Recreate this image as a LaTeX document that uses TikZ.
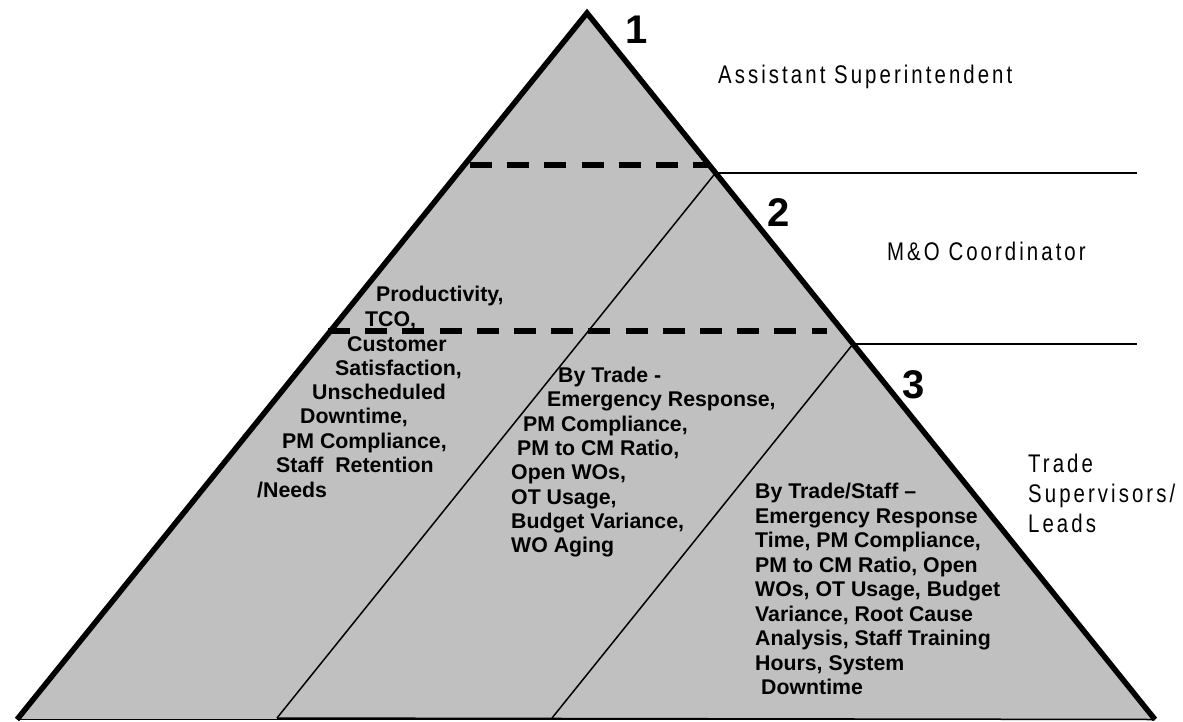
\documentclass[tikz,border=0pt]{standalone}
\usepackage{fontspec}
\setmainfont{Liberation Sans}
\newfontfamily\rolefont[FakeStretch=0.8,LetterSpace=12]{Liberation Sans}
\definecolor{pyrgray}{HTML}{C0C0C0}
\definecolor{baseline}{HTML}{808080}

\begin{document}
\begin{tikzpicture}[x=1pt,y=-1pt,
  metric/.style={font=\fontsize{21.3}{24.5}\selectfont\bfseries, inner sep=0pt, anchor=base west},
  role/.style={font=\fontsize{25.5}{30}\selectfont\rolefont, inner sep=0pt, anchor=base west},
  tier/.style={font=\fontsize{40}{40}\selectfont\bfseries, inner sep=0pt, anchor=base},
  rim/.style={line width=5.5pt, line join=miter},
  divider/.style={line width=1.5pt},
  cut/.style={line width=6pt, dash pattern=on 22pt off 15.2pt}]

\useasboundingbox (0,0) rectangle (1183,721);

% pyramid corners
\coordinate (apex) at (587,13);
\coordinate (bl) at (17,719.5);
\coordinate (br) at (1155,719.5);

% points where the level dividers meet the right face
\coordinate (c1) at (715.5,173);
\coordinate (c2) at (853,344);
\coordinate (f1) at (277,718);
\coordinate (f2) at (552,718);
\coordinate (e1) at (1137,173);
\coordinate (e2) at (1137,344);

% dashed level cuts
\coordinate (d1a) at (470,165);
\coordinate (d1b) at (709,165);
\coordinate (d2a) at (328,331);
\coordinate (d2b) at (827,331);

\fill[pyrgray] (apex) -- (br) -- (bl) -- cycle;
\draw[divider, baseline] (bl) -- (br);
\draw[divider] (f1) -- (br);

% slanted dividers and level rules
\draw[divider] (c1) -- (f1);
\draw[divider] (c2) -- (f2);
\draw[divider] (c1) -- (e1);
\draw[divider] (c2) -- (e2);

\draw[cut] (d1a) -- (d1b);
\draw[cut] (d2a) -- (d2b);

\draw[rim] (bl) -- (apex) -- (br);

% level numbers
\node[tier] (n1) at (637,43) {1};
\node[tier] (n2) at (779,226) {2};
\node[tier] (n3) at (914,398) {3};

% roles
\node[role] (r1) at (718,83) {Assistant Superintendent};
\node[role] (r2) at (887,260) {M\&O Coordinator};
\node[role] (r3a) at (1028,472) {Trade};
\node[role] (r3b) at (1028,502) {Supervisors/};
\node[role] (r3c) at (1028,532) {Leads};

% level 1 metrics
\foreach \x/\y/\t [count=\i] in {
  376/301.5/{Productivity,},
  365/326.5/{TCO,},
  347/351.5/{Customer},
  335/375.5/{Satisfaction,},
  312/399.5/{Unscheduled},
  300/423.5/{Downtime,},
  282/448.5/{PM Compliance,},
  276/472.5/{Staff\ \ Retention},
  257/497.5/{/Needs}}
  \node[metric] (a\i) at (\x,\y) {\t};

% level 2 metrics
\foreach \x/\y/\t [count=\i] in {
  558/382.5/{By Trade -},
  547/406.5/{Emergency Response,},
  523/431/{PM Compliance,},
  517/455.5/{PM to CM Ratio,},
  511/479.5/{Open WOs,},
  511/504/{OT Usage,},
  511/528/{Budget Variance,},
  511/552/{WO Aging}}
  \node[metric] (b\i) at (\x,\y) {\t};

% level 3 metrics
\foreach \x/\y/\t [count=\i] in {
  755/498.5/{By Trade/Staff –},
  755/523/{Emergency Response},
  755/547.5/{Time, PM Compliance,},
  755/572/{PM to CM Ratio, Open},
  755/596.5/{WOs, OT Usage, Budget},
  755/621/{Variance, Root Cause},
  755/645.5/{Analysis, Staff Training},
  755/670/{Hours, System},
  761/694.5/{Downtime}}
  \node[metric] (c\i) at (\x,\y) {\t};

\end{tikzpicture}
\end{document}
